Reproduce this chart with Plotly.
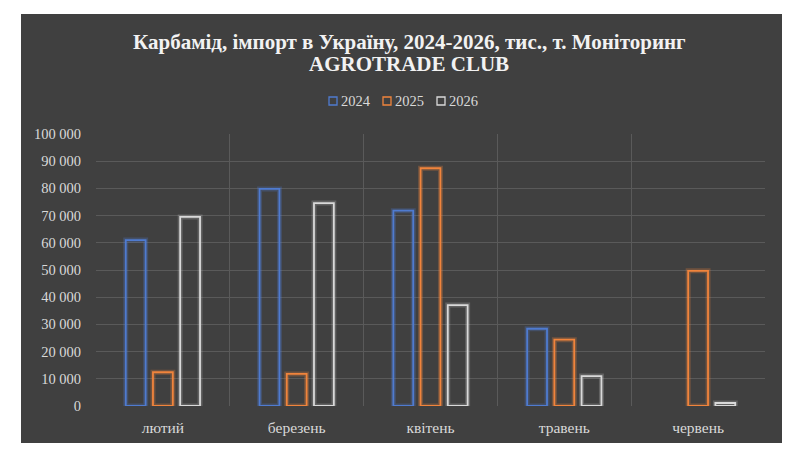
import plotly.graph_objects as go

months = ["лютий", "березень", "квітень", "травень", "червень"]
years = ["2024", "2025", "2026"]
v2024 = [61000, 79800, 71800, 28400, None]
v2025 = [12400, 11800, 87400, 24400, 49700]
v2026 = [69500, 74600, 37100, 11000, 1100]
series = [v2024, v2025, v2026]
colors = ["#4F7BD0", "#F0843C", "#D9D9D9"]
glow = ["rgba(79,123,208,0.28)", "rgba(240,132,60,0.28)", "rgba(217,217,217,0.22)"]
title_lines = ["Карбамід, імпорт в Україну, 2024-2026, тис., т. Моніторинг", "AGROTRADE CLUB"]

FONT = "Liberation Serif, Times New Roman, serif"
TXT = "#D9D9D9"

fig = go.Figure()
for i, (name, vals) in enumerate(zip(years, series)):
    fig.add_trace(go.Bar(
        x=months, y=vals, name=name, offsetgroup=str(i), showlegend=False,
        marker=dict(color="rgba(0,0,0,0)", line=dict(color=glow[i], width=5)),
        hoverinfo="skip"))
    fig.add_trace(go.Bar(
        x=months, y=vals, name=name, offsetgroup=str(i), showlegend=False,
        marker=dict(color="rgba(0,0,0,0)", line=dict(color=colors[i], width=1.8))))

# plot area pixel geometry
L, R, T, B = 96, 765, 134, 406
W, H = R - L, B - T
def px(x): return (x - L) / W
def py(y): return (B - y) / H

fig.add_shape(type="rect", xref="paper", yref="paper",
              x0=px(21), x1=px(782), y0=py(443), y1=py(14),
              fillcolor="#404040", line=dict(width=0), layer="below")

# title lines
for yy, line in zip([42, 64], title_lines):
    fig.add_annotation(text="<b>" + line + "</b>", xref="paper", yref="paper",
                       x=px(409), y=py(yy), xanchor="center", yanchor="middle",
                       showarrow=False, font=dict(family=FONT, size=21, color="#F2F2F2"))

# legend (drawn)
leg_x = [329, 383, 437]
for i, name in enumerate(years):
    x0 = leg_x[i]
    fig.add_shape(type="rect", xref="paper", yref="paper",
                  x0=px(x0), x1=px(x0 + 8), y0=py(105), y1=py(97),
                  fillcolor="rgba(0,0,0,0)", line=dict(color=colors[i], width=1.3))
    fig.add_annotation(text=name, xref="paper", yref="paper",
                       x=px(x0 + 10), y=py(101), xanchor="left", yanchor="middle",
                       showarrow=False, font=dict(family=FONT, size=14.5, color=TXT))

fig.update_layout(
    width=800, height=460,
    margin=dict(l=L, r=800 - R, t=T, b=460 - B),
    paper_bgcolor="white", plot_bgcolor="rgba(0,0,0,0)",
    barmode="group", bargap=0.39, bargroupgap=0.27,
    separators=". ",
    font=dict(family=FONT, color=TXT, size=14),
    showlegend=False,
)
fig.update_yaxes(range=[0, 100000], dtick=10000, tickformat=",d",
                 showgrid=True, gridcolor="#5A5A5A", gridwidth=1, zeroline=False,
                 showline=False, ticks="", ticklabelstandoff=14,
                 tickfont=dict(family=FONT, size=14.5, color=TXT))
fig.update_xaxes(tickson="boundaries", showgrid=True, gridcolor="#5A5A5A", gridwidth=1,
                 showline=False, ticks="", ticklabelstandoff=10,
                 tickfont=dict(family=FONT, size=15.5, color=TXT))

fig.write_html("out.html")
